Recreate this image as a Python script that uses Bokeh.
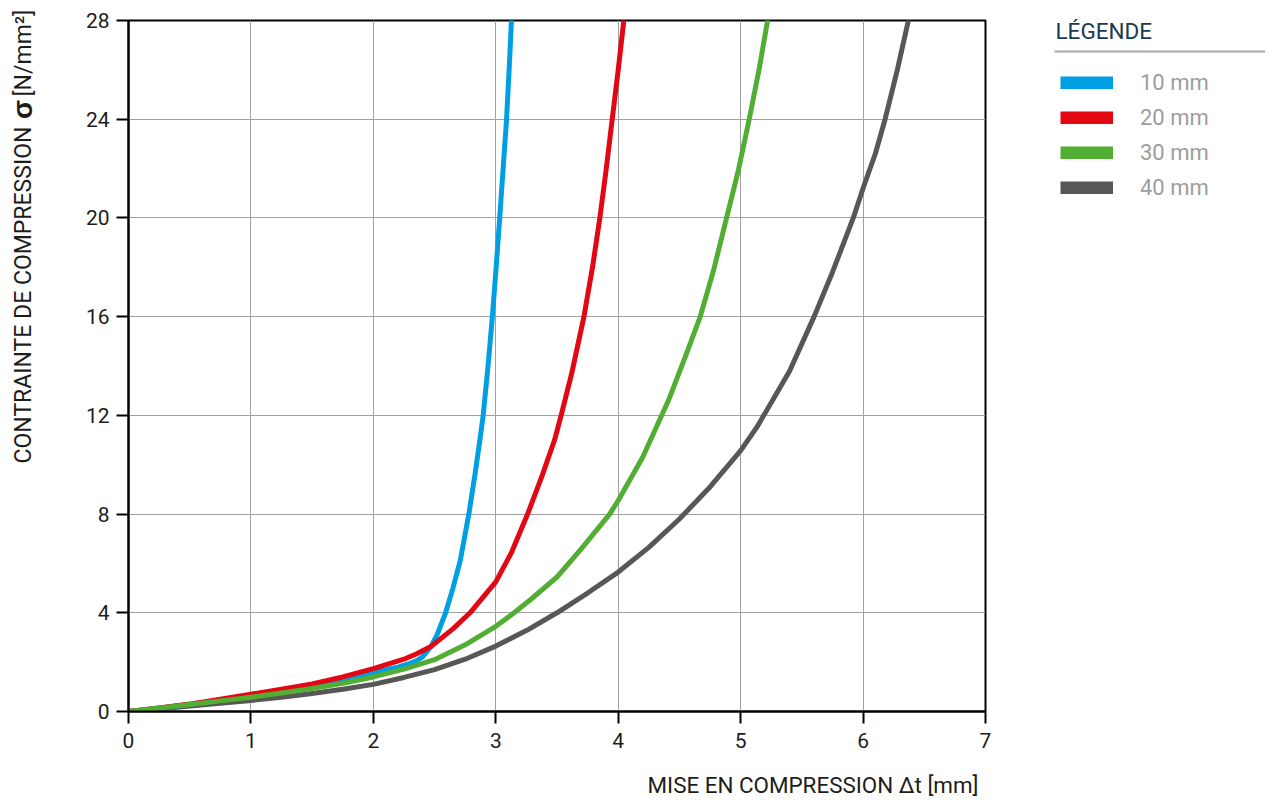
import numpy as np
from bokeh.plotting import figure
from bokeh.layouts import row, column
from bokeh.models import (Range1d, Label, Legend, LegendItem, BoxAnnotation,
                          FixedTicker, ColumnDataSource)
from bokeh.embed import file_html
from bokeh.resources import INLINE

# ---------------- data ----------------
series_names = ["10 mm", "20 mm", "30 mm", "40 mm"]
series_colors = ["#009FE3", "#E30613", "#52AE32", "#575756"]

x_10mm = [0, 0.25, 0.5, 0.75, 1.0, 1.25, 1.5, 1.75, 2.0, 2.2, 2.3, 2.35, 2.4, 2.43,
          2.47, 2.52, 2.59, 2.65, 2.71, 2.78, 2.83, 2.87, 2.897, 2.935, 2.972, 3.0,
          3.032, 3.06, 3.088, 3.11, 3.128]
y_10mm = [0, 0.13, 0.28, 0.45, 0.64, 0.83, 1.03, 1.28, 1.58, 1.8, 1.95, 2.05, 2.2, 2.38,
          2.63, 3.1, 4.0, 5.0, 6.12, 8.0, 9.6, 11.0, 12.0, 13.9, 16.0, 17.8,
          20.0, 22.0, 24.0, 26.1, 28.0]

x_20mm = [0, 0.25, 0.5, 0.75, 1.0, 1.25, 1.5, 1.75, 2.0, 2.25, 2.35, 2.47, 2.65, 2.79,
          3.0, 3.13, 3.26, 3.38, 3.48, 3.534, 3.62, 3.72, 3.79, 3.85, 3.9, 3.951,
          4.0, 4.046]
y_20mm = [0, 0.14, 0.3, 0.5, 0.7, 0.9, 1.12, 1.4, 1.74, 2.12, 2.33, 2.63, 3.35, 4.0,
          5.25, 6.46, 8.0, 9.58, 11.0, 12.0, 13.7, 16.0, 18.0, 20.0, 21.9, 24.0,
          26.0, 28.0]

x_30mm = [0, 0.25, 0.5, 0.75, 1.0, 1.25, 1.5, 1.75, 2.0, 2.25, 2.5, 2.75, 3.0, 3.15,
          3.3, 3.5, 3.7, 3.93, 4.0, 4.2, 4.41, 4.55, 4.67, 4.78, 4.885, 4.98, 5.07,
          5.15, 5.22]
y_30mm = [0, 0.14, 0.28, 0.43, 0.58, 0.75, 0.93, 1.14, 1.4, 1.72, 2.1, 2.7, 3.45, 4.0,
          4.6, 5.45, 6.6, 8.0, 8.55, 10.3, 12.6, 14.4, 16.0, 17.9, 20.0, 21.9, 24.0,
          26.0, 28.0]

x_40mm = [0, 0.25, 0.5, 0.75, 1.0, 1.25, 1.5, 1.75, 2.0, 2.25, 2.5, 2.75, 3.0, 3.25,
          3.5, 3.75, 4.0, 4.25, 4.5, 4.75, 5.0, 5.13, 5.26, 5.4, 5.6, 5.75, 5.92,
          6.0, 6.1, 6.18, 6.28, 6.37]
y_40mm = [0, 0.1, 0.22, 0.33, 0.45, 0.58, 0.73, 0.9, 1.1, 1.38, 1.7, 2.12, 2.65, 3.28,
          4.0, 4.8, 5.65, 6.65, 7.8, 9.1, 10.57, 11.5, 12.6, 13.8, 16.0, 17.8, 20.0,
          21.2, 22.6, 24.0, 26.0, 28.0]

x_ticks = [0, 1, 2, 3, 4, 5, 6, 7]
y_ticks = [0, 4, 8, 12, 16, 20, 24, 28]

x_title = "MISE EN COMPRESSION \u0394t [mm]"
y_title_a = "CONTRAINTE DE COMPRESSION"
y_title_sigma = "\u03c3"
y_title_b = "[N/mm\u00b2]"
legend_title = "L\u00c9GENDE"

TOTAL_H = 799
MAIN_H = 756
TEXT_FONT = "Roboto"
TEXT_COLOR = "#1d1d1b"


def blank(width, height, xr, yr):
    f = figure(width=width, height=height, x_range=xr, y_range=yr,
               min_border=0, min_border_left=0, min_border_right=0,
               min_border_top=0, min_border_bottom=0,
               x_axis_location=None, y_axis_location=None, title=None,
               output_backend="svg", toolbar_location=None)
    f.outline_line_color = None
    f.xgrid.visible = False
    f.ygrid.visible = False
    f.background_fill_color = "white"
    f.border_fill_color = "white"
    return f


# ---------------- main plot ----------------
p = figure(frame_width=857, frame_height=691,
           min_border_left=78, min_border_top=20,
           min_border_right=15, min_border_bottom=45,
           x_range=Range1d(0, 7), y_range=Range1d(0, 28),
           output_backend="svg", toolbar_location=None, title=None,
           background_fill_color="white", border_fill_color="white")

p.outline_line_color = "black"
p.outline_line_width = 2

for ax in (p.xaxis[0], p.yaxis[0]):
    ax.axis_line_color = "black"
    ax.axis_line_width = 2
    ax.major_tick_line_color = "black"
    ax.major_tick_line_width = 2
    ax.major_tick_out = 12
    ax.major_tick_in = 0
    ax.minor_tick_line_color = None
    ax.major_label_text_font = TEXT_FONT
    ax.major_label_text_font_size = "21px"
    ax.major_label_text_color = TEXT_COLOR

p.xaxis[0].ticker = FixedTicker(ticks=x_ticks)
p.yaxis[0].ticker = FixedTicker(ticks=y_ticks)
p.xaxis[0].major_label_standoff = 9
p.yaxis[0].major_label_standoff = 7

p.xgrid[0].ticker = FixedTicker(ticks=x_ticks)
p.ygrid[0].ticker = FixedTicker(ticks=y_ticks)
for g in (p.xgrid[0], p.ygrid[0]):
    g.grid_line_color = "#a0a0a0"
    g.grid_line_width = 1

xs = [x_10mm, x_20mm, x_30mm, x_40mm]
ys = [y_10mm, y_20mm, y_30mm, y_40mm]

for i in [3, 0, 1, 2]:
    src = ColumnDataSource(dict(x=xs[i], y=ys[i]))
    p.line("x", "y", source=src, line_color=series_colors[i], line_width=5,
           line_join="round", line_cap="round")

# ---------------- left strip: y title ----------------
left = blank(50, TOTAL_H, Range1d(0, 50), Range1d(TOTAL_H, 0))
left.add_layout(Label(x=23, y=463, text=y_title_a, angle=np.pi / 2,
                      text_font=TEXT_FONT, text_font_size="23px",
                      text_color=TEXT_COLOR, text_align="left",
                      text_baseline="middle"))
left.add_layout(Label(x=22, y=109, text=y_title_sigma, angle=np.pi / 2,
                      text_font="Liberation Sans", text_font_size="28px",
                      text_font_style="bold", text_color=TEXT_COLOR,
                      text_align="center", text_baseline="middle"))
left.add_layout(Label(x=23, y=96, text=y_title_b, angle=np.pi / 2,
                      text_font=TEXT_FONT, text_font_size="23px",
                      text_color=TEXT_COLOR, text_align="left",
                      text_baseline="middle"))

# ---------------- bottom strip: x title ----------------
# this strip's frame is aligned with the main frame (page x 128..985)
bottom = blank(950, TOTAL_H - MAIN_H, Range1d(128, 985), Range1d(0, TOTAL_H - MAIN_H))
bottom.add_layout(Label(x=647, y=15, text=x_title, text_font=TEXT_FONT,
                        text_font_size="22.4px", text_color=TEXT_COLOR,
                        text_align="left", text_baseline="middle"))

# ---------------- right strip: legend ----------------
# the series are re-drawn here off-screen (range is page coordinates), only so the
# legend shows a thick swatch of each colour
right = blank(265, TOTAL_H, Range1d(1000, 1265), Range1d(TOTAL_H, 0))
items = []
for i, name in enumerate(series_names):
    src = ColumnDataSource(dict(x=xs[i], y=ys[i]))
    r = right.line("x", "y", source=src, line_color=series_colors[i],
                   line_width=13, line_cap="butt")
    items.append(LegendItem(label=name, renderers=[r]))

legend = Legend(items=items, location=(60, TOTAL_H - 200),
                glyph_width=53, glyph_height=13, label_height=20,
                spacing=10, label_standoff=27,
                padding=0, margin=0, border_line_color=None,
                background_fill_alpha=0,
                label_text_font="Roboto", label_text_font_size="22px",
                label_text_color="#9d9d9c", label_text_baseline="middle")
right.add_layout(legend, "center")

right.add_layout(Label(x=1055, y=30, text=legend_title, text_font=TEXT_FONT,
                       text_font_size="22.5px", text_color="#1b3a52",
                       text_baseline="middle", text_align="left"))
right.add_layout(BoxAnnotation(left=1054, right=1265, top=50, bottom=52,
                               fill_color="#a8a8a8", fill_alpha=1,
                               line_color=None))

layout = row(left, column(p, bottom), right)
open("out.html", "w").write(file_html(layout, INLINE))
